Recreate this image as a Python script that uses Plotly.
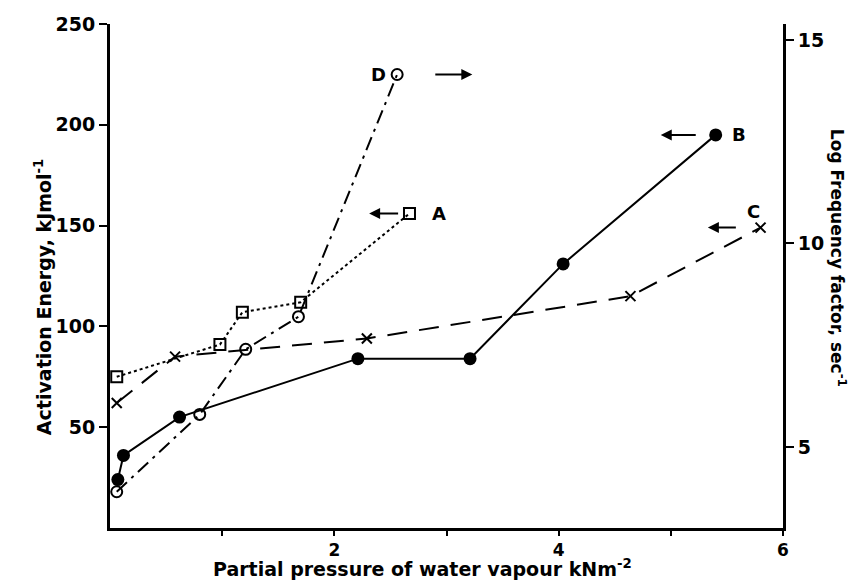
import plotly.graph_objects as go

# Series A (open squares, dotted) - activation energy
a_x = [0.06, 0.98, 1.18, 1.70, 2.67]
a_y = [75, 91, 107, 112, 156]
# Series B (filled circles, solid) - activation energy
b_x = [0.07, 0.12, 0.62, 2.21, 3.21, 4.04, 5.40]
b_y = [24, 36, 55, 84, 84, 131, 195]
# Series C (crosses, dashed) - activation energy
c_x = [0.06, 0.58, 2.29, 4.64, 5.80]
c_y = [62, 85, 94, 115, 149]
# Series D (open circles, dash-dot) - log frequency factor
d_x = [0.06, 0.80, 1.21, 1.68, 2.56]
d_y = [3.9, 5.8, 7.4, 8.2, 14.15]

x_ticks = [1, 2, 3, 4, 5, 6]
x_tick_text = [" ", "2", " ", "4", " ", "6"]
left_ticks = [50, 100, 150, 200, 250]
right_ticks = [5, 10, 15]

FONT = "DejaVu Sans"
BOLD = dict(family=FONT, weight="bold", color="black")
fig = go.Figure()
lw = 2
fig.add_trace(go.Scatter(x=a_x, y=a_y, mode="lines+markers",
    line=dict(color="black", width=lw, dash="dot"),
    marker=dict(symbol="square-open", size=11, color="black", line=dict(width=2))))
fig.add_trace(go.Scatter(x=b_x, y=b_y, mode="lines+markers",
    line=dict(color="black", width=lw),
    marker=dict(symbol="circle", size=13, color="black")))
fig.add_trace(go.Scatter(x=c_x, y=c_y, mode="lines+markers",
    line=dict(color="black", width=lw, dash="20px,12px"),
    marker=dict(symbol="x-thin-open", size=10, color="black", line=dict(width=2, color="black"))))
fig.add_trace(go.Scatter(x=d_x, y=d_y, mode="lines+markers", yaxis="y2",
    line=dict(color="black", width=lw, dash="14px,6px,3px,6px"),
    marker=dict(symbol="circle-open", size=11, color="black", line=dict(width=2))))

ann = []
def lab(x, y, t, yref="y"):
    ann.append(dict(x=x, y=y, xref="x", yref=yref, text=t, showarrow=False,
                    font=dict(BOLD, size=18), xanchor="center", yanchor="middle"))
def arrow(x, y, ax, yref="y"):
    ann.append(dict(x=x, y=y, xref="x", yref=yref, ax=ax, ay=0, axref="pixel",
                    showarrow=True, arrowhead=2, arrowsize=1.1, arrowwidth=2,
                    arrowcolor="black", text=" ", font=dict(size=10)))

lab(2.93, 156, "A")
arrow(2.31, 156, 32)
lab(5.61, 195, "B")
arrow(4.91, 195, 38)
lab(5.74, 157, "C")
arrow(5.33, 149, 31)
lab(2.39, 14.15, "D", "y2")
arrow(3.23, 14.15, -40, "y2")

axis_common = dict(ticks="outside", ticklen=8, tickwidth=2, tickcolor="black",
                   showline=True, linewidth=3, linecolor="black", showgrid=False,
                   zeroline=False, tickfont=dict(BOLD, size=19), automargin=False)

x_axis = dict(axis_common, ticklen=5, tickfont=dict(BOLD, size=17))

fig.update_layout(
    width=848, height=574, showlegend=False,
    plot_bgcolor="white", paper_bgcolor="white",
    margin=dict(l=102, r=73, t=16, b=54),
    font=dict(family=FONT, size=15, color="black"),
    xaxis=dict(range=[0, 6], tickvals=x_ticks, ticktext=x_tick_text, **x_axis),
    yaxis=dict(range=[0, 250], tickvals=left_ticks, **axis_common),
    yaxis2=dict(range=[3.01, 15.39], overlaying="y", side="right", tickvals=right_ticks,
                **axis_common),
    annotations=ann + [
        dict(x=-0.0996, y=0.46, xref="paper", yref="paper", xanchor="center", yanchor="middle",
             text="Activation Energy, kJmol<sup>-1</sup>",
             textangle=-90, showarrow=False, font=dict(BOLD, size=19)),
        dict(x=1.0817, y=0.536, xref="paper", yref="paper", xanchor="center", yanchor="middle",
             text="Log Frequency factor, sec<sup>-1</sup>",
             textangle=90, showarrow=False, font=dict(BOLD, size=17)),
        dict(x=0.465, y=-0.107, xref="paper", yref="paper", xanchor="center", yanchor="bottom",
             text="Partial pressure of water vapour kNm<sup>-2</sup>",
             showarrow=False, font=dict(BOLD, size=19)),
    ],
)
fig.write_html("out.html")
